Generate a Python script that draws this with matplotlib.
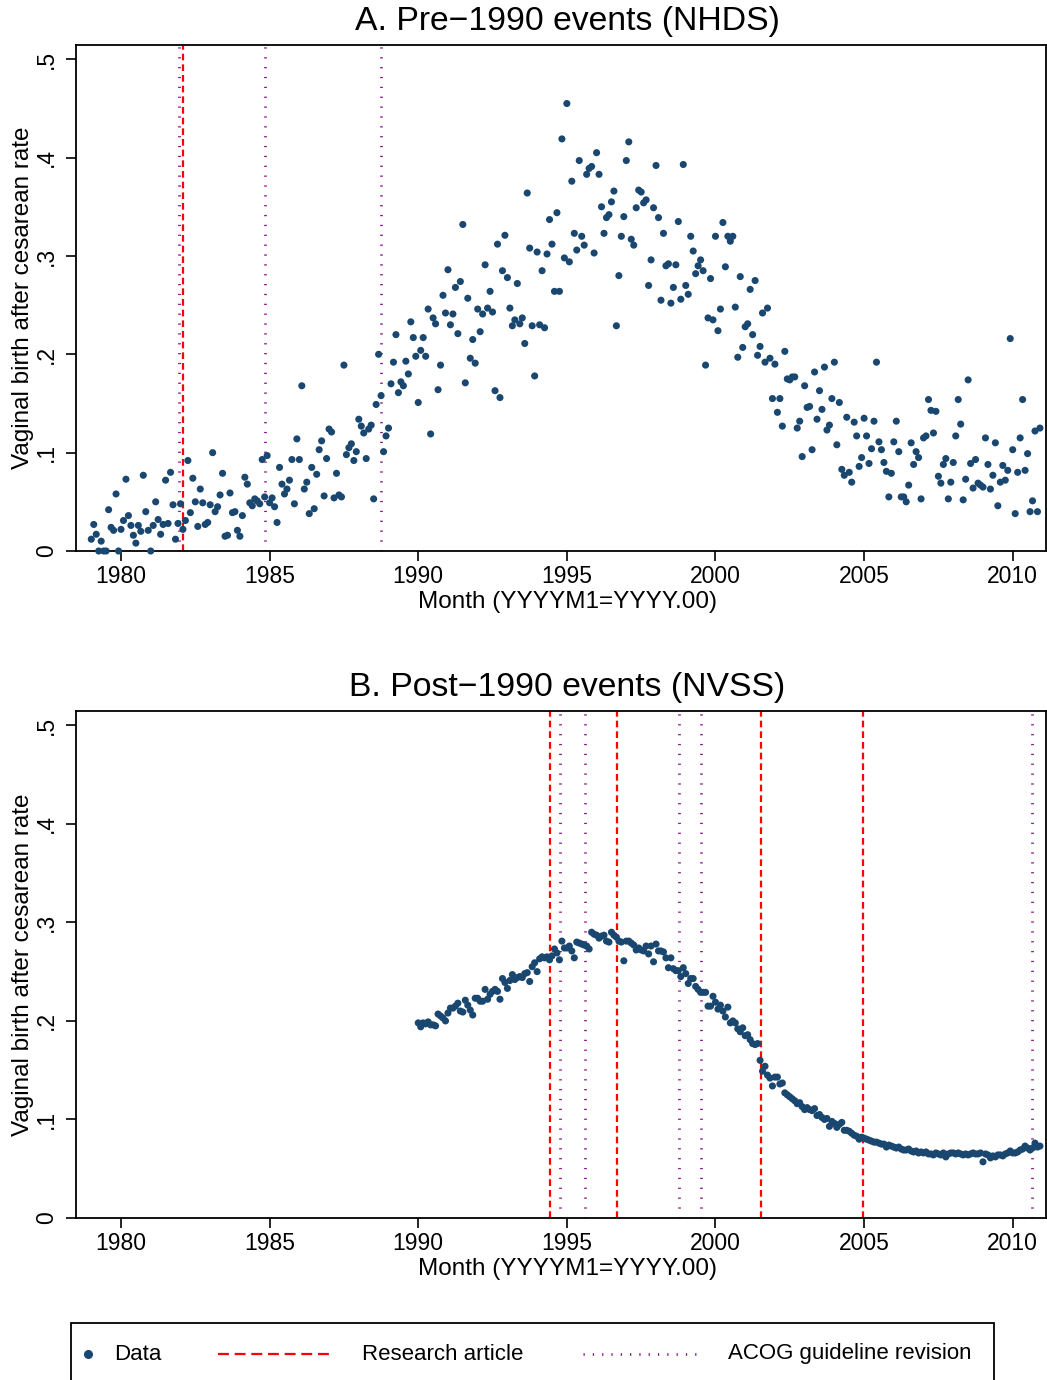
import numpy as np
import matplotlib
matplotlib.use("Agg")
import matplotlib.pyplot as plt
from matplotlib.lines import Line2D
from matplotlib.patches import Rectangle

plt.rcParams['font.family'] = ['Liberation Sans', 'DejaVu Sans']

# ---------------- data ----------------
# Panel A: NHDS monthly VBAC rate, 1979m1 .. 2010m12
nhds_start = 1979
nhds_vbac = [
    .012, .027, .017, .000, .010, .000, .000, .042, .024, .021, .058, .000,
    .022, .031, .073, .036, .026, .016, .008, .026, .020, .077, .040, .021,
    .000, .026, .050, .032, .017, .027, .072, .028, .080, .047, .012, .028,
    .048, .022, .031, .092, .039, .074, .050, .025, .063, .049, .027, .029,
    .047, .100, .040, .045, .057, .079, .015, .016, .059, .039, .040, .021,
    .015, .036, .075, .068, .049, .046, .053, .051, .048, .093, .055, .097,
    .049, .054, .045, .029, .085, .068, .058, .063, .072, .093, .048, .114,
    .093, .168, .063, .070, .038, .085, .043, .078, .103, .112, .056, .094,
    .124, .121, .054, .079, .057, .055, .189, .098, .105, .109, .092, .101,
    .134, .127, .120, .094, .124, .128, .053, .149, .200, .158, .101, .117,
    .125, .170, .192, .220, .161, .172, .168, .193, .180, .233, .217, .198,
    .151, .204, .217, .198, .246, .119, .237, .231, .164, .189, .260, .242,
    .286, .230, .241, .268, .221, .274, .332, .171, .257, .196, .215, .191,
    .246, .223, .241, .291, .247, .264, .243, .163, .312, .156, .285, .321,
    .278, .247, .229, .235, .272, .231, .237, .211, .364, .308, .229, .178,
    .304, .230, .285, .227, .302, .337, .312, .264, .344, .264, .419, .298,
    .455, .294, .376, .323, .306, .397, .320, .311, .383, .389, .391, .303,
    .405, .383, .350, .323, .339, .342, .355, .366, .229, .280, .320, .340,
    .397, .416, .317, .311, .349, .367, .365, .354, .357, .270, .296, .349,
    .392, .339, .255, .323, .290, .292, .252, .268, .291, .335, .256, .393,
    .270, .261, .320, .305, .282, .290, .296, .285, .189, .237, .277, .235,
    .320, .224, .246, .334, .289, .320, .315, .320, .248, .197, .279, .207,
    .228, .231, .266, .220, .275, .199, .208, .242, .192, .247, .196, .155,
    .190, .141, .155, .127, .203, .175, .174, .177, .177, .125, .132, .096,
    .168, .146, .147, .103, .182, .134, .163, .144, .187, .123, .128, .155,
    .192, .108, .151, .083, .077, .136, .080, .070, .131, .117, .086, .095,
    .135, .117, .089, .104, .132, .192, .111, .103, .090, .081, .055, .079,
    .111, .132, .101, .055, .055, .050, .067, .110, .088, .101, .095, .053,
    .115, .117, .154, .143, .120, .142, .076, .069, .088, .094, .053, .070,
    .090, .117, .154, .129, .052, .073, .174, .089, .064, .093, .069, .067,
    .065, .115, .088, .063, .077, .110, .046, .070, .087, .072, .082, .216,
    .103, .038, .080, .115, .154, .082, .099, .040, .051, .122, .040, .125,
]

# Panel B: NVSS monthly VBAC rate, 1990m1 .. 2010m12
nvss_start = 1990
nvss_vbac = [
    .198, .194, .198, .197, .199, .196, .196, .195, .207, .205, .203, .200,
    .208, .213, .213, .215, .218, .210, .209, .221, .216, .211, .206, .223,
    .223, .220, .220, .232, .222, .227, .230, .232, .230, .222, .243, .239,
    .233, .241, .247, .242, .244, .245, .244, .248, .249, .240, .255, .259,
    .250, .263, .265, .264, .265, .262, .266, .273, .269, .262, .281, .274,
    .274, .276, .271, .264, .280, .279, .278, .277, .276, .273, .290, .288,
    .287, .284, .286, .287, .281, .280, .290, .287, .285, .281, .280, .261,
    .281, .281, .279, .277, .272, .274, .272, .271, .276, .268, .276, .260,
    .278, .271, .271, .270, .264, .254, .264, .253, .251, .251, .245, .254,
    .248, .238, .243, .243, .235, .232, .229, .229, .229, .215, .215, .225,
    .219, .212, .216, .210, .204, .214, .198, .200, .198, .192, .189, .193,
    .185, .186, .181, .177, .176, .177, .160, .149, .154, .145, .142, .134,
    .143, .143, .136, .137, .127, .125, .123, .121, .119, .116, .117, .113,
    .110, .112, .110, .109, .111, .104, .105, .102, .100, .101, .093, .098,
    .096, .092, .095, .097, .089, .089, .088, .086, .084, .083, .080, .082,
    .081, .080, .079, .078, .077, .077, .076, .075, .075, .072, .074, .073,
    .072, .071, .072, .070, .069, .069, .070, .068, .067, .068, .066, .067,
    .066, .067, .065, .065, .064, .066, .065, .064, .066, .062, .065, .066,
    .066, .065, .066, .065, .064, .065, .064, .065, .066, .065, .065, .066,
    .057, .065, .064, .061, .063, .062, .064, .064, .063, .065, .066, .068,
    .066, .066, .067, .069, .070, .073, .071, .069, .071, .076, .072, .073,
]

# event dates (decimal years)
a_research = [1982.08]
a_acog = [1981.96, 1984.83, 1988.75]
b_research = [1994.43, 1996.69, 2001.53, 2004.97]
b_acog = [1994.77, 1995.61, 1998.78, 1999.52, 2010.65]

titles = ["A. Pre\u22121990 events (NHDS)", "B. Post\u22121990 events (NVSS)"]
xticks = [1980, 1985, 1990, 1995, 2000, 2005, 2010]
yticks = [0, .1, .2, .3, .4, .5]
ytick_labels = ["0", ".1", ".2", ".3", ".4", ".5"]
xlabel = "Month (YYYYM1=YYYY.00)"
ylabel = "Vaginal birth after cesarean rate"
legend_labels = ["Data", "Research article", "ACOG guideline revision"]

# ---------------- style ----------------
NAVY = "#1a476f"
RED = "#ff0000"
PURPLE = "#8b1a8b"
W, H = 1047, 1380
DPI = 100

fig = plt.figure(figsize=(W / DPI, H / DPI), dpi=DPI)
fig.patch.set_facecolor("white")


def fx(px):
    return px / W


def fy(py):
    return 1 - py / H


def make_panel(top, bottom, values, start, research, acog, title):
    ax = fig.add_axes([fx(76), fy(bottom), fx(1046) - fx(76), fy(top) - fy(bottom)])
    x = start + np.arange(len(values)) / 12.0
    for v in acog:
        ax.axvline(v, color=PURPLE, lw=2.0, ls=(0, (0.45, 3.1)), zorder=2)
    for v in research:
        ax.axvline(v, color=RED, lw=1.6, ls=(0, (3.0, 1.8)), zorder=2)
    ax.scatter(x, values, s=26, color=NAVY, edgecolors="none", zorder=3, clip_on=False)
    ax.set_xlim(1978.486, 2011.12)
    ax.set_ylim(0, 0.5145)
    ax.set_xticks(xticks)
    ax.set_xticklabels([str(t) for t in xticks])
    ax.set_yticks(yticks)
    ax.set_yticklabels(ytick_labels)
    ax.tick_params(axis="both", direction="out", length=7, width=1.2, labelsize=16.5,
                   colors="black")
    ax.tick_params(axis="x", pad=3)
    ax.tick_params(axis="y", pad=6)
    for lab in ax.get_yticklabels():
        lab.set_rotation(90)
        lab.set_verticalalignment("center")
        lab.set_horizontalalignment("right")
    for sp in ax.spines.values():
        sp.set_linewidth(1.3)
        sp.set_color("black")
    ax.set_xlabel(xlabel, fontsize=17.5)
    ax.xaxis.set_label_coords(0.5062, -0.0785)
    ax.xaxis.label.set_verticalalignment("top")
    ax.set_ylabel(ylabel, fontsize=17.5, labelpad=1)
    t = ax.set_title(title, fontsize=24.3, pad=11)
    t.set_x(0.5062)
    return ax


axA = make_panel(45, 551, nhds_vbac, nhds_start, a_research, a_acog, titles[0])
axB = make_panel(711, 1218, nvss_vbac, nvss_start, b_research, b_acog, titles[1])

# ---------------- legend (drawn in figure coordinates) ----------------
fig.add_artist(Rectangle((fx(71), -0.02), fx(994) - fx(71), fy(1323) + 0.02,
                         transform=fig.transFigure, fill=False, edgecolor="black",
                         linewidth=1.3, clip_on=False))
ly = fy(1354)
fig.add_artist(Line2D([fx(88)], [ly], marker="o", markersize=5.5, color=NAVY,
                      linestyle="none", transform=fig.transFigure))
fig.text(fx(114), ly, legend_labels[0], fontsize=16, va="center", ha="left")
fig.add_artist(Line2D([fx(218), fx(334)], [ly, ly], color=RED, lw=1.6,
                      ls=(0, (4.9, 2.6)), transform=fig.transFigure))
fig.text(fx(362), ly, legend_labels[1], fontsize=16, va="center", ha="left")
fig.add_artist(Line2D([fx(583), fx(697)], [ly, ly], color=PURPLE, lw=2.0,
                      ls=(0, (0.45, 2.9)), transform=fig.transFigure))
fig.text(fx(728), ly, legend_labels[2], fontsize=16, va="center", ha="left")

fig.savefig("out.png", dpi=DPI, facecolor="white")
